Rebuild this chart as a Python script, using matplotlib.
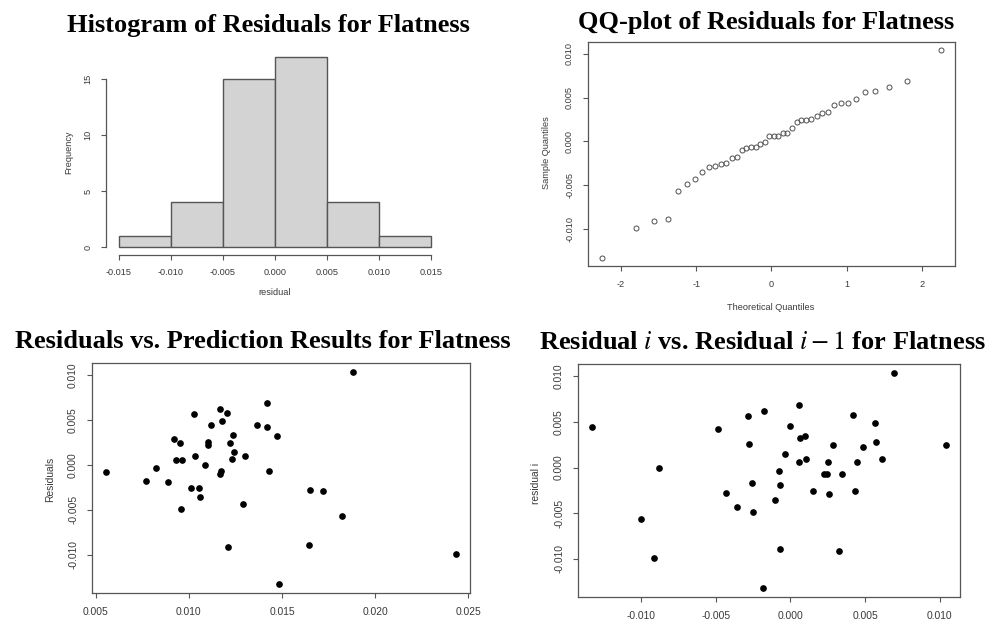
import statistics
import numpy as np
import matplotlib
matplotlib.use("Agg")
import matplotlib.pyplot as plt
from matplotlib.ticker import FormatStrFormatter

plt.rcParams['axes.unicode_minus'] = False
plt.rcParams['mathtext.fontset'] = 'stix'

# fitted flatness predictions and their residuals
predicted = [0.00555, 0.00768, 0.00823, 0.00890, 0.00918, 0.00933, 0.00954,
             0.00962, 0.00958, 0.01012, 0.01028, 0.01033, 0.01053, 0.01060,
             0.01087, 0.01100, 0.01100, 0.01117, 0.01167, 0.01178, 0.01171,
             0.01167, 0.01207, 0.01210, 0.01219, 0.01230, 0.01239, 0.01242,
             0.01293, 0.01303, 0.01366, 0.01418, 0.01422, 0.01429, 0.01475,
             0.01484, 0.01650, 0.01643, 0.01718, 0.01820, 0.01879, 0.02434]
residuals = [-0.00078, -0.00174, -0.00033, -0.00189, 0.00285, 0.00059, 0.00248,
             0.00059, -0.00485, -0.00252, 0.00567, 0.00100, -0.00259, -0.00352,
             -0.00004, 0.00256, 0.00226, 0.00444, 0.00619, 0.00489, -0.00070,
             -0.00104, 0.00574, -0.00911, 0.00248, 0.00063, 0.00337, 0.00148,
             -0.00430, 0.00100, 0.00441, 0.00685, 0.00419, -0.00070, 0.00326,
             -0.01330, -0.00281, -0.00889, -0.00289, -0.00563, 0.01041, -0.00996]

# residual i-1 / residual i pairs (lag plot)
lag_prev = [-0.01326, -0.00996, -0.00911, -0.00882, -0.00487, -0.00431, -0.00355,
            -0.00286, -0.00277, -0.00259, -0.00250, -0.00179, -0.00185, -0.00105,
            -0.00074, -0.00069, -0.00069, -0.00036, -0.00004, 0.00056, 0.00056,
            0.00067, 0.00096, 0.00103, 0.00150, 0.00223, 0.00248, 0.00250,
            0.00259, 0.00286, 0.00328, 0.00342, 0.00422, 0.00433, 0.00446,
            0.00484, 0.00563, 0.00576, 0.00616, 0.00690, 0.01040]
lag_curr = [0.00440, -0.00564, -0.00993, -0.00004, 0.00418, -0.00278, -0.00429,
            0.00568, 0.00256, -0.00172, -0.00484, 0.00619, -0.01322, -0.00352,
            -0.00033, -0.00187, -0.00886, 0.00150, 0.00451, 0.00689, 0.00066,
            0.00326, 0.00341, 0.00099, -0.00260, -0.00073, -0.00070, 0.00059,
            -0.00286, 0.00249, -0.00908, -0.00070, 0.00571, -0.00253, 0.00059,
            0.00227, 0.00487, 0.00282, 0.00099, 0.01040, 0.00249]

hist_edges = [-0.015, -0.010, -0.005, 0.000, 0.005, 0.010, 0.015]

W, H = 1004, 623
GREY = '#555555'
TXT = '#3a3a3a'


def px_axes(fig, x0, y0, x1, y1):
    # axes from pixel box (top-left origin)
    return fig.add_axes([x0 / W, 1 - y1 / H, (x1 - x0) / W, (y1 - y0) / H])


def r_lim(vals):
    lo, hi = min(vals), max(vals)
    pad = (hi - lo) * 0.04
    return lo - pad, hi + pad


def style(ax, fs, box=True):
    for s in ax.spines.values():
        s.set_color(GREY)
        s.set_linewidth(0.9)
        s.set_visible(box)
    ax.tick_params(colors=GREY, labelcolor=TXT, labelsize=fs, length=3.5,
                   width=0.8, pad=6.5)
    ax.tick_params(axis='y', labelrotation=90)
    for lab in ax.get_yticklabels():
        lab.set_va('center')
    for lab in ax.get_xticklabels() + ax.get_yticklabels():
        lab.set_family('Liberation Sans')


def title(fig, x, y, s):
    fig.text(x / W, 1 - y / H, s, ha='center', va='baseline', fontsize=19,
             fontweight='bold', family='Liberation Serif')


def label(fig, x, y, s, fs, rot=0):
    fig.text(x / W, 1 - y / H, s, ha='center', va='center', rotation=rot,
             fontsize=fs, color=TXT, family='Liberation Sans')


fig = plt.figure(figsize=(W / 100, H / 100), dpi=100)

# --- histogram ---
ax1 = px_axes(fig, 106.5, 49, 443.5, 254.6)
ax1.hist(residuals, bins=hist_edges, color='#d3d3d3', edgecolor=GREY, linewidth=1)
ax1.set_xlim(-0.0162, 0.0162)
ax1.set_ylim(-0.68, 17.68)
ax1.set_xticks(hist_edges)
ax1.set_yticks([0, 5, 10, 15])
ax1.xaxis.set_major_formatter(FormatStrFormatter('%.3f'))
style(ax1, 6.6, box=False)
ax1.spines['bottom'].set_visible(True)
ax1.spines['left'].set_visible(True)
ax1.spines['bottom'].set_bounds(-0.015, 0.015)
ax1.spines['left'].set_bounds(0, 15)
title(fig, 268, 32, 'Histogram of Residuals for Flatness')
label(fig, 275, 293, 'residual', 6.6)
label(fig, 69, 152, 'Frequency', 6.6, 90)

# --- QQ plot ---
n = len(residuals)
nd = statistics.NormalDist()
theo = [nd.inv_cdf((i + 0.5) / n) for i in range(n)]
sample = sorted(residuals)
ax2 = px_axes(fig, 588, 42, 955, 266)
ax2.plot(theo, sample, 'o', ms=3.6, mfc='none', mec='#505050', mew=0.7)
ax2.set_xlim(*r_lim(theo))
ax2.set_ylim(*r_lim(sample))
ax2.set_xticks([-2, -1, 0, 1, 2])
ax2.set_yticks([-0.010, -0.005, 0.0, 0.005, 0.010])
ax2.yaxis.set_major_formatter(FormatStrFormatter('%.3f'))
style(ax2, 6.6)
title(fig, 766.5, 29, 'QQ-plot of Residuals for Flatness')
label(fig, 771, 307, 'Theoretical Quantiles', 6.6)
label(fig, 547, 153, 'Sample Quantiles', 6.6, 90)

# --- residuals vs predictions ---
ax3 = px_axes(fig, 92, 363, 470, 593)
ax3.plot(predicted, residuals, 'o', ms=3.8, color='black')
ax3.set_xlim(*r_lim(predicted))
ax3.set_ylim(*r_lim(residuals))
ax3.set_xticks([0.005, 0.010, 0.015, 0.020, 0.025])
ax3.set_yticks([-0.010, -0.005, 0.0, 0.005, 0.010])
ax3.xaxis.set_major_formatter(FormatStrFormatter('%.3f'))
ax3.yaxis.set_major_formatter(FormatStrFormatter('%.3f'))
style(ax3, 7.4)
title(fig, 263, 347.5, 'Residuals vs. Prediction Results for Flatness')
label(fig, 50, 479, 'Residuals', 7.4, 90)

# --- lag plot ---
ax4 = px_axes(fig, 578, 364, 960, 597)
ax4.plot(lag_prev, lag_curr, 'o', ms=3.8, color='black')
ax4.set_xlim(*r_lim(lag_prev))
ax4.set_ylim(*r_lim(lag_curr))
ax4.set_xticks([-0.010, -0.005, 0.0, 0.005, 0.010])
ax4.set_yticks([-0.010, -0.005, 0.0, 0.005, 0.010])
ax4.xaxis.set_major_formatter(FormatStrFormatter('%.3f'))
ax4.yaxis.set_major_formatter(FormatStrFormatter('%.3f'))
style(ax4, 7.4)
title(fig, 762.5, 349, r'Residual $i$ vs. Residual $i-1$ for Flatness')
label(fig, 536, 483, 'residual i', 7.4, 90)

fig.savefig('out.png', dpi=100)
